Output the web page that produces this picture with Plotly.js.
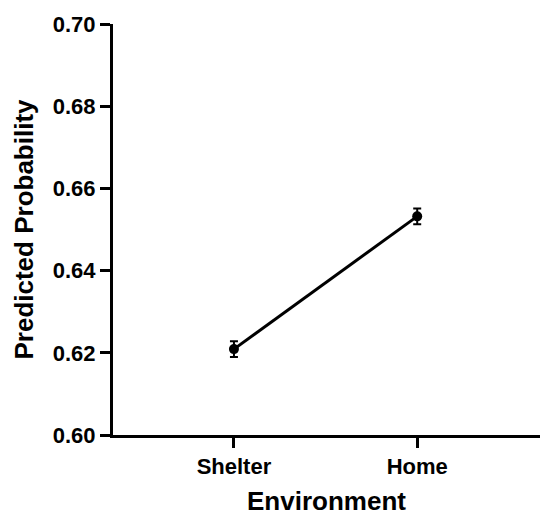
<!DOCTYPE html>
<html>
<head>
<meta charset="utf-8">
<script src="https://cdn.plot.ly/plotly-3.0.1.min.js"></script>
<style>html,body{margin:0;padding:0;background:#fff;}#chart{width:540px;height:518px;}</style>
</head>
<body>
<div id="chart"></div>
<script>
var categories = ["Shelter", "Home"];
var predicted = [0.6209, 0.6532];
var errors = [0.0019, 0.0019];
var yTickVals = [0.60, 0.62, 0.64, 0.66, 0.68, 0.70];
var yTickText = ["0.60", "0.62", "0.64", "0.66", "0.68", "0.70"];

var trace = {
  x: [0, 1],
  y: predicted,
  type: "scatter",
  mode: "lines+markers",
  line: {color: "#000", width: 3},
  marker: {color: "#000", size: 10},
  error_y: {type: "data", array: errors, visible: true, color: "#000", thickness: 2, width: 4}
};

var font = {family: "Liberation Sans, Arial, sans-serif", color: "#000"};
var layout = {
  width: 540, height: 518,
  margin: {l: 113, r: 0, t: 24, b: 83},
  paper_bgcolor: "#fff", plot_bgcolor: "#fff",
  showlegend: false,
  font: font,
  xaxis: {
    range: [-0.66, 1.67],
    tickvals: [0, 1], ticktext: categories.map(function(c){return "<b>" + c + "</b>";}),
    showgrid: false, zeroline: false,
    showline: true, linecolor: "#000", linewidth: 3,
    ticks: "outside", ticklen: 10, tickwidth: 3, tickcolor: "#000",
    tickfont: {family: font.family, size: 22, color: "#000"},
    title: {text: "<b>Environment</b>", font: {family: font.family, size: 26, color: "#000"}, standoff: 14}
  },
  yaxis: {
    range: [0.60, 0.70],
    tickvals: yTickVals, ticktext: yTickText.map(function(t){return "<b>" + t + "</b>";}),
    showgrid: false, zeroline: false,
    showline: true, linecolor: "#000", linewidth: 3,
    ticks: "outside", ticklen: 10, tickwidth: 3, tickcolor: "#000",
    tickfont: {family: font.family, size: 22, color: "#000"},
    title: {text: "<b>Predicted Probability</b>", font: {family: font.family, size: 26, color: "#000"}, standoff: 12}
  }
};

Plotly.newPlot("chart", [trace], layout, {staticPlot: true, displayModeBar: false});
</script>
</body>
</html>
